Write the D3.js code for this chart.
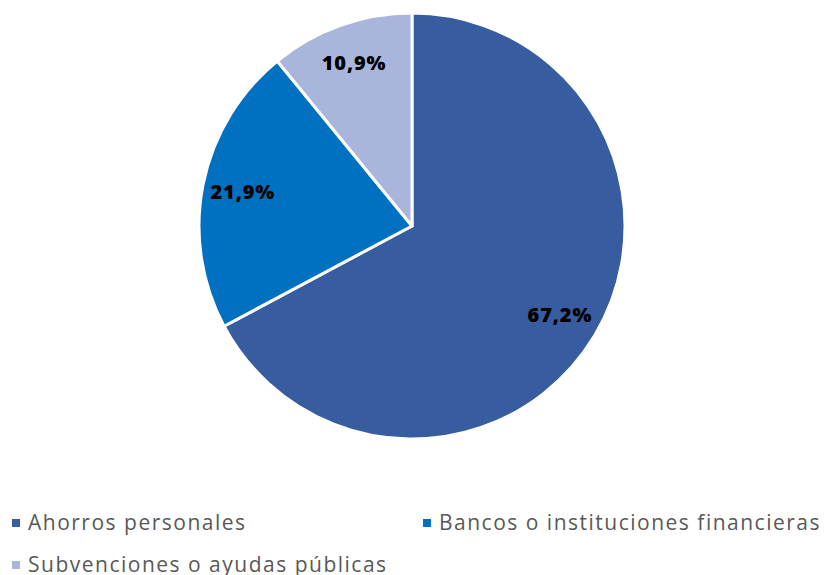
<!DOCTYPE html>
<html><head><meta charset="utf-8">
<script src="https://cdn.jsdelivr.net/npm/d3@7"></script>
<style>body{margin:0;background:#fff}svg{display:block}</style>
</head><body>
<svg id="c" width="824" height="575"></svg>
<script>
const categories = ["Ahorros personales", "Bancos o instituciones financieras", "Subvenciones o ayudas públicas"];
const values = [67.2, 21.9, 10.9];
const labels = ["67,2%", "21,9%", "10,9%"];
const colors = ["#375C9F", "#0070C0", "#A9B5DA"];

const svg = d3.select("#c");
const cx = 412, cy = 226, r = 213;
const pie = d3.pie().sort(null).value(d => d)(values);
const arc = d3.arc().innerRadius(0).outerRadius(r);
const labelArc = d3.arc().innerRadius(r * 0.81).outerRadius(r * 0.81);
const g = svg.append("g").attr("transform", `translate(${cx},${cy})`);
g.selectAll("path").data(pie).join("path")
  .attr("d", arc).attr("fill", (d, i) => colors[i])
  .attr("stroke", "#fff").attr("stroke-width", 3).attr("stroke-linejoin", "round");
g.selectAll("text").data(pie).join("text")
  .attr("transform", d => `translate(${labelArc.centroid(d)})`)
  .attr("text-anchor", "middle").attr("dy", "0.35em")
  .style("font-family", "'Open Sans', sans-serif").style("font-weight", 800)
  .style("font-size", "20px").style("letter-spacing", "0.9px").attr("fill", "#000")
  .text((d, i) => labels[i]);

const leg = [[12, 523], [423, 523], [12, 565]];
const lg = svg.append("g");
categories.forEach((c, i) => {
  const [x, y] = leg[i];
  lg.append("rect").attr("x", x).attr("y", y - 4).attr("width", 8).attr("height", 8).attr("fill", colors[i]);
  lg.append("text").attr("x", x + 16).attr("y", y).attr("dy", "0.35em")
    .style("font-family", "'Open Sans', sans-serif").style("font-size", "21px")
    .style("letter-spacing", "1.5px")
    .attr("fill", "#595959").text(c);
});
</script>
</body></html>
